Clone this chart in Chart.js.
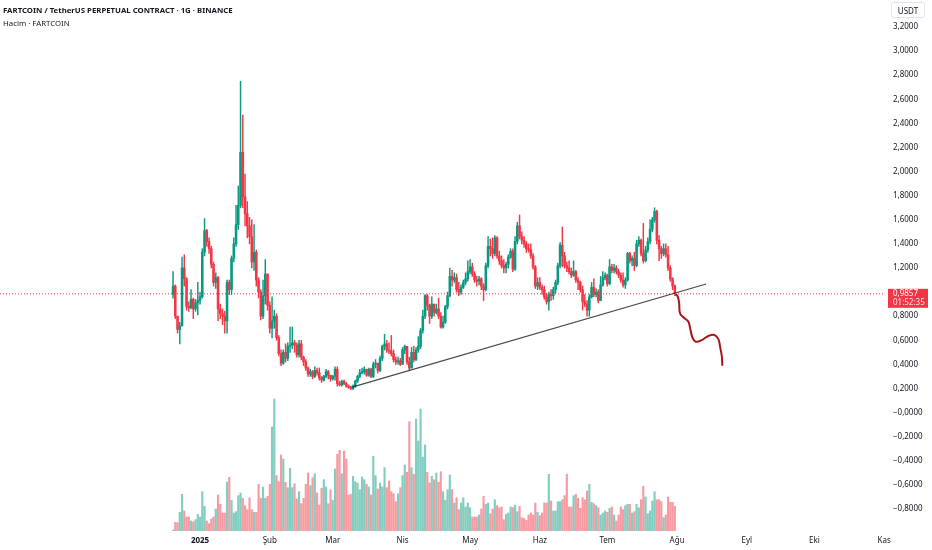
<!DOCTYPE html>
<html>
<head>
<meta charset="utf-8">
<script src="https://cdn.jsdelivr.net/npm/chart.js@4.4.1/dist/chart.umd.min.js"></script>
<style>
  html, body { margin: 0; padding: 0; background: #fff; }
  #wrap { position: relative; width: 932px; height: 550px; }
  #title { position: absolute; left: 3px; top: 5px; font: bold 7.8px "Noto Sans", sans-serif; color: #131722; white-space: nowrap; }
  #vol { position: absolute; left: 3px; top: 18px; font: 7.8px "Noto Sans", sans-serif; color: #131722; white-space: nowrap; }
  #cur { position: absolute; left: 891px; top: 2px; width: 34px; height: 16px; border: 1px solid #e0e3eb; border-radius: 3px;
         font: 8px "Noto Sans", sans-serif; color: #131722; text-align: center; line-height: 16px; box-sizing: border-box; }
</style>
</head>
<body>
<div id="wrap">
  <canvas id="chart" width="932" height="550"></canvas>
  <div id="title">FARTCOIN / TetherUS PERPETUAL CONTRACT · 1G · BINANCE</div>
  <div id="vol">Hacim · FARTCOIN</div>
  <div id="cur">USDT</div>
</div>
<script>
// ====== Data (daily candles, day 0 = 1 Jan 2025) ======
const firstDay = -12;   // 20 Dec 2024
const firstOpen = 0.98;

const closes = [
  1.05,0.80,0.69,0.72,1.20,1.11,0.88,0.87,0.94,0.86,
  0.91,0.93,0.96,1.33,1.51,1.42,1.36,1.23,1.08,1.12,
  0.86,0.82,0.80,0.76,1.08,1.02,1.28,1.40,1.56,1.72,
  2.16,1.79,1.65,1.55,1.46,1.25,1.33,1.10,1.00,0.80,
  0.97,1.15,0.89,0.70,0.76,0.80,0.62,0.49,0.41,0.50,
  0.45,0.55,0.56,0.58,0.56,0.48,0.57,0.46,0.42,0.37,
  0.32,0.34,0.30,0.35,0.33,0.29,0.27,0.30,0.34,0.31,
  0.28,0.30,0.36,0.24,0.23,0.26,0.24,0.22,0.21,0.20,
  0.22,0.26,0.30,0.33,0.34,0.36,0.31,0.36,0.30,0.40,
  0.41,0.35,0.45,0.55,0.57,0.52,0.51,0.49,0.44,0.42,
  0.43,0.40,0.52,0.55,0.42,0.37,0.50,0.44,0.52,0.55,
  0.68,0.80,0.97,0.89,0.80,0.90,0.83,0.86,0.80,0.71,
  0.75,0.88,0.97,1.13,1.10,1.12,1.02,1.00,1.04,1.08,
  1.11,1.17,1.21,1.15,1.10,1.09,1.11,1.05,1.02,1.22,
  1.38,1.36,1.32,1.45,1.30,1.26,1.22,1.20,1.23,1.29,
  1.34,1.19,1.42,1.55,1.46,1.43,1.40,1.36,1.35,1.30,
  1.21,1.05,1.08,1.04,1.02,0.96,0.92,0.98,0.97,1.02,
  1.08,1.22,1.39,1.30,1.22,1.20,1.17,1.14,1.17,1.10,
  1.08,1.02,0.92,0.90,0.85,0.96,1.04,0.98,1.00,0.93,
  1.06,1.12,1.14,1.07,1.21,1.18,1.20,1.17,1.14,1.10,
  1.06,1.10,1.32,1.26,1.28,1.22,1.40,1.43,1.32,1.26,
  1.35,1.42,1.52,1.60,1.67,1.43,1.36,1.32,1.36,1.31,
  1.20,1.11,1.05,0.9857
];

const highs = [
  1.17,1.06,0.80,0.75,1.29,1.31,1.12,0.92,1.02,0.95,
  0.94,1.08,1.00,1.36,1.61,1.52,1.45,1.38,1.25,1.16,
  1.13,0.90,0.86,0.84,1.10,1.10,1.30,1.45,1.72,1.88,
  2.75,2.47,1.98,1.75,1.62,1.60,1.56,1.35,1.12,1.02,
  1.10,1.27,1.15,0.92,0.96,0.85,0.82,0.64,0.52,0.52,
  0.57,0.58,0.71,0.71,0.60,0.58,0.60,0.60,0.47,0.44,
  0.38,0.36,0.35,0.38,0.37,0.37,0.30,0.31,0.36,0.35,
  0.31,0.31,0.38,0.38,0.26,0.27,0.27,0.25,0.23,0.22,
  0.23,0.27,0.31,0.36,0.37,0.38,0.36,0.37,0.37,0.42,
  0.44,0.41,0.47,0.56,0.65,0.60,0.58,0.64,0.52,0.46,
  0.46,0.45,0.54,0.56,0.55,0.46,0.54,0.55,0.54,0.63,
  0.70,0.85,0.98,0.98,0.90,0.96,0.90,0.90,0.95,0.83,
  0.80,0.89,1.00,1.20,1.18,1.16,1.15,1.08,1.06,1.10,
  1.16,1.26,1.27,1.24,1.17,1.13,1.13,1.12,1.07,1.24,
  1.46,1.44,1.45,1.47,1.46,1.34,1.30,1.27,1.25,1.31,
  1.36,1.36,1.46,1.58,1.64,1.50,1.46,1.42,1.40,1.40,
  1.32,1.22,1.12,1.12,1.06,1.05,0.99,1.00,1.02,1.04,
  1.10,1.24,1.41,1.54,1.33,1.25,1.26,1.20,1.26,1.18,
  1.12,1.09,1.05,0.98,0.93,0.98,1.08,1.11,1.03,1.02,
  1.13,1.17,1.16,1.15,1.27,1.23,1.23,1.22,1.19,1.16,
  1.16,1.12,1.33,1.33,1.30,1.33,1.43,1.46,1.44,1.57,
  1.38,1.45,1.60,1.62,1.70,1.68,1.47,1.38,1.40,1.40,
  1.38,1.22,1.12,1.06
];

const lows = [
  0.95,0.78,0.66,0.57,0.72,1.05,0.85,0.84,0.86,0.78,
  0.84,0.81,0.90,0.95,1.30,1.38,1.32,1.20,1.05,1.03,
  0.76,0.78,0.73,0.66,0.66,0.98,0.98,1.25,1.38,1.52,
  1.70,1.70,1.55,1.45,1.40,1.20,1.18,1.05,0.95,0.77,
  0.78,0.90,0.85,0.66,0.62,0.70,0.60,0.47,0.39,0.40,
  0.42,0.43,0.50,0.53,0.50,0.46,0.46,0.44,0.39,0.35,
  0.30,0.30,0.28,0.29,0.31,0.27,0.25,0.26,0.29,0.28,
  0.26,0.27,0.27,0.22,0.22,0.22,0.23,0.21,0.20,0.19,
  0.19,0.21,0.25,0.29,0.32,0.32,0.30,0.30,0.29,0.29,
  0.37,0.33,0.34,0.43,0.52,0.50,0.49,0.47,0.42,0.40,
  0.40,0.39,0.40,0.49,0.40,0.35,0.37,0.42,0.43,0.50,
  0.53,0.66,0.78,0.85,0.74,0.78,0.80,0.82,0.78,0.70,
  0.70,0.74,0.86,0.96,1.05,1.08,1.00,0.97,0.98,1.03,
  1.06,1.09,1.15,1.13,1.08,1.05,1.06,1.02,0.93,1.01,
  1.20,1.30,1.28,1.30,1.28,1.23,1.20,1.16,1.16,1.20,
  1.28,1.17,1.18,1.40,1.44,1.40,1.37,1.33,1.33,1.28,
  1.19,1.03,1.02,1.02,0.98,0.94,0.90,0.85,0.93,0.94,
  0.99,1.06,1.20,1.21,1.20,1.17,1.15,1.12,1.13,1.08,
  1.02,1.00,0.85,0.88,0.80,0.80,0.95,0.96,0.96,0.91,
  0.93,1.05,1.10,1.05,1.06,1.16,1.16,1.15,1.12,1.08,
  1.04,1.03,1.09,1.24,1.22,1.18,1.21,1.38,1.30,1.24,
  1.25,1.33,1.40,1.50,1.58,1.40,1.26,1.28,1.30,1.29,
  1.18,1.09,1.02,0.97
];

// volume, millions FARTCOIN
const volumes = [
  3,26,25,56,110,60,42,42,30,28,
  34,50,42,118,74,30,22,36,42,66,
  108,80,54,54,147,161,92,54,58,106,
  114,98,76,64,100,64,56,56,140,98,
  132,98,104,140,312,396,166,148,228,216,
  146,130,188,130,142,96,118,82,98,140,
  174,136,160,172,114,78,128,154,132,82,
  124,92,186,230,242,172,240,216,108,110,
  164,148,144,124,162,154,140,132,108,224,
  166,126,144,132,190,130,150,118,112,88,
  112,130,166,198,176,328,190,170,336,270,
  366,222,258,176,144,164,154,174,146,178,
  118,92,124,168,124,84,100,64,84,100,
  72,84,70,42,42,42,48,66,104,80,
  84,52,66,94,76,70,72,34,50,54,
  72,70,78,58,74,40,38,32,48,54,
  48,84,56,46,54,84,84,170,90,60,
  60,88,88,94,106,170,72,72,106,110,
  98,68,100,94,120,140,86,82,76,70,
  48,54,60,56,68,72,48,30,48,
  72,64,76,80,80,54,58,80,70,94,
  134,102,52,60,90,118,94,94,88,40,
  48,102,86,86,74
];

const monthTicks = [0, 31, 59, 90, 120, 151, 181, 212, 243, 273, 304];
const monthLabels = ['2025', 'Şub', 'Mar', 'Nis', 'May', 'Haz', 'Tem', 'Ağu', 'Eyl', 'Eki', 'Kas'];
const priceTicks = [-0.8, -0.6, -0.4, -0.2, 0, 0.2, 0.4, 0.6, 0.8, 1.0, 1.2, 1.4, 1.6, 1.8, 2.0, 2.2, 2.4, 2.6, 2.8, 3.0, 3.2];

const lastPrice = 0.9857;
const countdown = '01:52:35';

// drawings: support trendline + freehand projection
const trendX = [67.6, 224.9];
const trendY = [0.212, 1.067];
const sketchX = [211.4, 212.3, 212.9, 213.3, 214.8, 217.0, 217.8, 218.8, 220.3, 223.0, 225.9, 228.6, 230.4, 231.1, 231.9, 232.1];
const sketchY = [0.982, 0.962, 0.910, 0.824, 0.791, 0.755, 0.700, 0.625, 0.588, 0.602, 0.636, 0.644, 0.608, 0.547, 0.464, 0.389];

// ====== Build ======
const upColor = '#089981';
const downColor = '#f23645';
const xMin = -88.9, xMax = 304.4;

const opens = closes.map((c, i) => i === 0 ? firstOpen : closes[i - 1]);
const dayOf = i => firstDay + i;
const colorOf = i => closes[i] >= opens[i] ? upColor : downColor;
const volColorOf = i => closes[i] >= opens[i] ? 'rgba(8,153,129,0.5)' : 'rgba(242,54,69,0.5)';

const fmt = v => (v < 0.0001 ? '\u2212' : '') + Math.abs(v).toFixed(4).replace('.', ',');

Chart.defaults.font.family = '"Noto Sans", sans-serif';
Chart.defaults.font.size = 8;
Chart.defaults.color = '#131722';

// last price tag on the price scale
const priceLabel = {
  id: 'priceLabel',
  afterDraw(chart) {
    const c = chart.ctx;
    const y = chart.scales.y.getPixelForValue(lastPrice);
    c.save();
    c.fillStyle = downColor;
    c.fillRect(888, y - 5, 40, 19);
    c.fillStyle = '#fff';
    c.font = '8px "Noto Sans", sans-serif';
    c.textBaseline = 'middle';
    c.fillText(fmt(lastPrice), 893, y);
    c.fillStyle = 'rgba(255,255,255,0.85)';
    c.fillText(countdown, 893, y + 9);
    c.restore();
  }
};

const ctx = document.getElementById('chart').getContext('2d');
new Chart(ctx, {
  type: 'bar',
  data: {
    datasets: [
      {
        type: 'line',
        data: sketchX.map((x, i) => ({ x, y: sketchY[i] })),
        borderColor: '#a8141b',
        borderWidth: 2,
        pointRadius: 0,
        tension: 0.4,
        order: 0
      },
      {
        type: 'line',
        data: trendX.map((x, i) => ({ x, y: trendY[i] })),
        borderColor: 'rgba(40,40,40,0.85)',
        borderWidth: 1.2,
        pointRadius: 0,
        order: 0
      },
      {
        type: 'line',
        data: [{ x: xMin, y: lastPrice }, { x: xMax, y: lastPrice }],
        borderColor: downColor,
        borderWidth: 1,
        borderDash: [1, 2],
        pointRadius: 0,
        order: 0
      },
      {
        data: closes.map((c, i) => ({ x: dayOf(i), y: [opens[i], c] })),
        backgroundColor: closes.map((c, i) => colorOf(i)),
        barThickness: 1.9,
        minBarLength: 1,
        grouped: false,
        order: 1
      },
      {
        data: closes.map((c, i) => ({
          x: dayOf(i),
          y: [Math.min(lows[i], opens[i], c), Math.max(highs[i], opens[i], c)]
        })),
        backgroundColor: closes.map((c, i) => colorOf(i)),
        barThickness: 0.8,
        grouped: false,
        order: 2
      },
      {
        data: volumes.map((v, i) => ({ x: dayOf(i), y: v })),
        backgroundColor: volumes.map((v, i) => volColorOf(i)),
        barThickness: 1.5,
        grouped: false,
        yAxisID: 'yv',
        order: 3
      }
    ]
  },
  options: {
    responsive: false,
    animation: false,
    layout: { padding: 0 },
    plugins: { legend: { display: false }, tooltip: { enabled: false } },
    scales: {
      x: {
        type: 'linear',
        offset: false,
        min: xMin,
        max: xMax,
        grid: { display: false, drawTicks: false, offset: false },
        border: { display: false },
        afterBuildTicks: s => { s.ticks = monthTicks.map(v => ({ value: v })); },
        afterFit: s => { s.height = 19; s.paddingLeft = 0; s.paddingRight = 0; },
        ticks: {
          autoSkip: false,
          maxRotation: 0,
          padding: 5,
          callback: v => monthLabels[monthTicks.indexOf(v)],
          font: c => c.tick && c.tick.value === 0 ? { weight: 'bold', size: 8 } : { size: 8 }
        }
      },
      y: {
        position: 'right',
        min: -0.9826,
        max: 3.424,
        grid: { display: false, drawTicks: false },
        border: { display: false },
        afterBuildTicks: s => { s.ticks = priceTicks.map(v => ({ value: v })); },
        afterFit: s => { s.width = 47; s.paddingTop = 0; s.paddingBottom = 0; },
        // the tick under the last-price tag is hidden, as on the reference
        ticks: { padding: 8, callback: v => Math.abs(v - lastPrice) < 0.08 ? '' : fmt(v) }
      },
      yv: {
        display: false,
        min: 0,
        max: 1593
      }
    }
  },
  plugins: [priceLabel]
});
</script>
</body>
</html>
